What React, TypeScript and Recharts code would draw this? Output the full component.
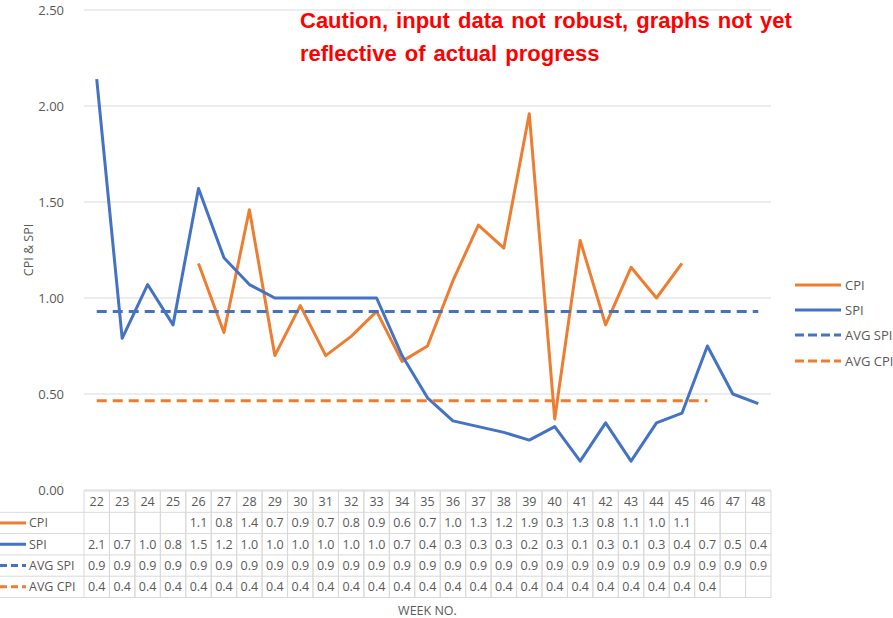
import { LineChart, Line, XAxis, YAxis, CartesianGrid } from 'recharts';

const weeks = ['22', '23', '24', '25', '26', '27', '28', '29', '30', '31', '32', '33', '34', '35', '36', '37', '38', '39', '40', '41', '42', '43', '44', '45', '46', '47', '48'];
const cpi = [null, null, null, null, 1.18, 0.82, 1.46, 0.7, 0.96, 0.7, 0.8, 0.93, 0.67, 0.75, 1.09, 1.38, 1.26, 1.96, 0.37, 1.3, 0.86, 1.16, 1.0, 1.18, null, null, null];
const spi = [2.14, 0.79, 1.07, 0.86, 1.57, 1.21, 1.07, 1.0, 1.0, 1.0, 1.0, 1.0, 0.7, 0.48, 0.36, 0.33, 0.3, 0.26, 0.33, 0.15, 0.35, 0.15, 0.35, 0.4, 0.75, 0.5, 0.45];
const avgSpi = [0.93, 0.93, 0.93, 0.93, 0.93, 0.93, 0.93, 0.93, 0.93, 0.93, 0.93, 0.93, 0.93, 0.93, 0.93, 0.93, 0.93, 0.93, 0.93, 0.93, 0.93, 0.93, 0.93, 0.93, 0.93, 0.93, 0.93];
const avgCpi = [0.465, 0.465, 0.465, 0.465, 0.465, 0.465, 0.465, 0.465, 0.465, 0.465, 0.465, 0.465, 0.465, 0.465, 0.465, 0.465, 0.465, 0.465, 0.465, 0.465, 0.465, 0.465, 0.465, 0.465, 0.465, null, null];
const yTicks = [0, 0.5, 1, 1.5, 2, 2.5];

const ORANGE = '#ED7D31';
const BLUE = '#4472C4';
const GRAY = '#595959';
const GRID = '#d9d9d9';
const FONT = '"Open Sans", "Liberation Sans", sans-serif';

const series = [
  { key: 'cpi', name: 'CPI', color: ORANGE, dash: undefined as string | undefined },
  { key: 'spi', name: 'SPI', color: BLUE, dash: undefined as string | undefined },
  { key: 'avgSpi', name: 'AVG SPI', color: BLUE, dash: '10 6' },
  { key: 'avgCpi', name: 'AVG CPI', color: ORANGE, dash: '10 6' },
];

const data = weeks.map((w, i) => ({ week: w, cpi: cpi[i], spi: spi[i], avgSpi: avgSpi[i], avgCpi: avgCpi[i] }));

const PLOT_LEFT = 84;
const PLOT_RIGHT = 771;
const PLOT_TOP = 10;
const PLOT_BOTTOM = 490;
const COLW = (PLOT_RIGHT - PLOT_LEFT) / weeks.length;
const ROWH = 21.3;

// table cells show the value cut to one decimal
const fmt = (v: number | null) => (v == null ? '' : (Math.floor(v * 10 + 1e-6) / 10).toFixed(1));

function TableTick(props: any) {
  const { x, y, payload, index } = props;
  const left = x - COLW / 2;
  const top = y + 1;
  const row = data[index];
  return (
    <g>
      {index === 0 &&
        series.map((s, r) => {
          const cy = top + ROWH * (r + 1.5);
          return (
            <g key={s.key}>
              <line x1={0} x2={left} y1={top + ROWH * (r + 1)} y2={top + ROWH * (r + 1)} stroke={GRID} />
              {r === series.length - 1 && (
                <line x1={0} x2={left} y1={top + ROWH * (r + 2)} y2={top + ROWH * (r + 2)} stroke={GRID} />
              )}
              <line x1={0} x2={26} y1={cy} y2={cy} stroke={s.color} strokeWidth={3} strokeDasharray={s.dash ? '7 4' : undefined} />
              <text x={29} y={cy + 4.5} fontSize={12.5} fill={GRAY} fontFamily={FONT}>
                {s.name}
              </text>
            </g>
          );
        })}
      <rect x={left} y={top} width={COLW} height={ROWH * 5} fill="none" stroke={GRID} />
      {[1, 2, 3, 4].map((r) => (
        <line key={r} x1={left} x2={left + COLW} y1={top + ROWH * r} y2={top + ROWH * r} stroke={GRID} />
      ))}
      <text x={x} y={top + ROWH * 0.5 + 4.5} textAnchor="middle" fontSize={12.5} fill={GRAY} fontFamily={FONT}>
        {payload.value}
      </text>
      {series.map((s, r) => (
        <text
          key={s.key}
          x={x}
          y={top + ROWH * (r + 1.5) + 4.5}
          textAnchor="middle"
          fontSize={12.5}
          fill={GRAY}
          fontFamily={FONT}
        >
          {fmt((row as any)[s.key])}
        </text>
      ))}
    </g>
  );
}

function SideLegend() {
  return (
    <div style={{ position: 'absolute', left: 795, top: 272, fontFamily: FONT, fontSize: 13, color: GRAY }}>
      {series.map((s) => (
        <div key={s.key} style={{ display: 'flex', alignItems: 'center', height: 25.3, whiteSpace: 'nowrap' }}>
          <svg width={48} height={6} style={{ marginRight: 2 }}>
            <line x1={0} x2={46} y1={3} y2={3} stroke={s.color} strokeWidth={3} strokeDasharray={s.dash ? '9 4' : undefined} />
          </svg>
          <span>{s.name}</span>
        </div>
      ))}
    </div>
  );
}

export default function App() {
  return (
    <div style={{ position: 'absolute', left: 0, top: 0, width: 893, height: 618, background: '#fff', fontFamily: FONT, overflow: 'hidden' }}>
      <LineChart
        width={893}
        height={618}
        data={data}
        margin={{ top: PLOT_TOP, right: 893 - PLOT_RIGHT, left: 0, bottom: 0 }}
      >
        <CartesianGrid vertical={false} stroke={GRID} />
        <XAxis
          dataKey="week"
          height={618 - PLOT_BOTTOM}
          interval={0}
          tickLine={false}
          axisLine={false}
          tickSize={0}
          tickMargin={0}
          padding={{ left: COLW / 2, right: COLW / 2 }}
          tick={<TableTick />}
          label={{ value: 'WEEK NO.', position: 'insideBottom', offset: 3, fill: GRAY, fontSize: 12.5, fontFamily: FONT }}
        />
        <YAxis
          width={PLOT_LEFT}
          domain={[0, 2.5]}
          ticks={yTicks}
          tickFormatter={(v: number) => v.toFixed(2)}
          tickLine={false}
          axisLine={false}
          tickMargin={14}
          tick={{ fill: GRAY, fontSize: 13, fontFamily: FONT }}
          label={{
            content: () => (
              <text x={33} y={250} transform="rotate(-90 33 250)" textAnchor="middle" fontSize={12.5} fill={GRAY} fontFamily={FONT}>
                CPI &amp; SPI
              </text>
            ),
          }}
        />
        {series.map((s) => (
          <Line
            key={s.key}
            dataKey={s.key}
            name={s.name}
            stroke={s.color}
            strokeWidth={3}
            strokeDasharray={s.dash}
            dot={false}
            activeDot={false}
            isAnimationActive={false}
            strokeLinejoin="round"
          />
        ))}
      </LineChart>
      <SideLegend />
      <div
        style={{
          position: 'absolute',
          left: 300,
          top: 4,
          color: '#FF0000',
          fontWeight: 'bold',
          fontSize: 22,
          lineHeight: '33px',
          fontFamily: '"Liberation Sans", Arial, sans-serif',
          wordSpacing: 2,
          whiteSpace: 'nowrap',
        }}
      >
        Caution, input data not robust, graphs not yet
        <br />
        reflective of actual progress
      </div>
    </div>
  );
}
